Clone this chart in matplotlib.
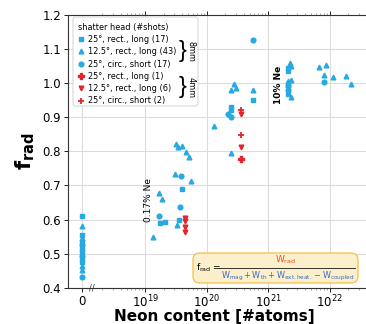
import matplotlib
matplotlib.use("Agg")
import matplotlib.pyplot as plt
import numpy as np
from matplotlib.patches import FancyBboxPatch
from matplotlib.lines import Line2D
from matplotlib.ticker import LogLocator, NullFormatter, FixedLocator

# neon content [#atoms] (0 = no neon) and f_rad, per shatter head
sq_n = [0, 0, 0, 0, 0, 0, 0, 1.78e19, 2.14e19, 4.0e19, 3.55e19,
        2.5e20, 2.5e20, 5.6e20, 2.15e21, 2.15e21, 2.15e21, 2.15e21]
sq_f = [0.611, 0.555, 0.535, 0.515, 0.505, 0.485, 0.475, 0.589, 0.594, 0.691, 0.599,
        0.928, 0.920, 0.951, 1.044, 1.034, 0.998, 0.968]

tri_n = [0, 0, 0, 0, 1.33e19, 1.7e19, 1.9e19, 3.1e19, 5.5e19, 3.3e19,
         3.16e19, 3.47e19, 4.0e19, 4.7e19, 5.2e19,
         2.5e20, 1.3e20, 2.75e20, 2.5e20, 3.0e20, 5.6e20,
         2.25e21, 2.35e21, 2.35e21, 2.15e21, 2.35e21,
         6.8e21, 8.9e21, 8.1e21, 1.12e22, 1.86e22, 2.2e22]
tri_f = [0.582, 0.545, 0.465, 0.453, 0.550, 0.678, 0.661, 0.733, 0.713, 0.584,
         0.820, 0.813, 0.815, 0.798, 0.782,
         0.796, 0.873, 0.998, 0.978, 0.986, 0.980,
         1.058, 1.049, 1.007, 1.005, 0.958,
         1.046, 1.051, 1.024, 1.017, 1.020, 0.998]

circ_n = [0, 0, 0, 1.7e19, 3.85e19, 3.7e19, 2.25e20, 2.5e20, 5.6e20,
          2.15e21, 2.15e21, 8.1e21]
circ_f = [0.525, 0.495, 0.431, 0.610, 0.727, 0.636, 0.910, 0.900, 1.126,
          0.991, 0.980, 1.002]

r_rect_n = [3.6e20]
r_rect_f = [0.776]
r_tri_n = [4.4e19, 4.4e19, 4.4e19, 4.4e19, 3.6e20, 3.6e20]
r_tri_f = [0.606, 0.597, 0.579, 0.564, 0.910, 0.813]
r_circ_n = [3.6e20, 3.6e20]
r_circ_f = [0.847, 0.920]

labels = ["25°, rect., long (17)", "12.5°, rect., long (43)", "25°, circ., short (17)",
          "25°, rect., long (1)", "12.5°, rect., long (6)", "25°, circ., short (2)"]

blue = "#27a9e1"
red = "#e3262b"

series = [
    (sq_n, sq_f, dict(marker="s", color=blue, ms=3.4)),
    (tri_n, tri_f, dict(marker="^", color=blue, ms=3.4)),
    (circ_n, circ_f, dict(marker="o", color=blue, ms=3.4)),
    (r_rect_n, r_rect_f, dict(marker="P", color=red, ms=5)),
    (r_tri_n, r_tri_f, dict(marker="v", color=red, ms=3.4)),
    (r_circ_n, r_circ_f, dict(marker="+", color=red, ms=4.5, mew=1.3)),
]

fig = plt.figure(figsize=(3.66, 3.24), dpi=100)
W, H = 366.0, 324.0
bot = 1 - 288 / H
hgt = (288 - 14.5) / H
ax0 = fig.add_axes([68 / W, bot, 24 / W, hgt])
ax1 = fig.add_axes([92 / W, bot, 274 / W, hgt], sharey=ax0)

for n, f, st in series:
    n = np.array(n)
    f = np.array(f)
    z = n == 0
    if z.any():
        ax0.plot(n[z], f[z], ls="none", **st)
    ax1.plot(n[~z], f[~z], ls="none", **st)

gridc = "#dcdcdc"
ax0.set_xlim(-1.4, 1.0)
ax0.xaxis.set_major_locator(FixedLocator([0]))
ax0.set_ylim(0.4, 1.2)
ax0.set_yticks([0.4, 0.5, 0.6, 0.7, 0.8, 0.9, 1.0, 1.1, 1.2])
ax0.spines["right"].set_visible(False)
ax0.grid(True, color=gridc, lw=0.8)
ax0.tick_params(labelsize=8.5, length=3, width=0.6, pad=2)
ax0.set_ylabel(r"$\mathbf{f_{rad}}$", fontsize=15, labelpad=4)

ax1.set_xscale("log")
ax1.set_xlim(10 ** 18.138, 10 ** 22.593)
ax1.xaxis.set_major_locator(LogLocator(base=10, numticks=10))
ax1.xaxis.set_minor_locator(LogLocator(base=10, subs=np.arange(2, 10), numticks=10))
ax1.xaxis.set_minor_formatter(NullFormatter())
ax1.spines["left"].set_visible(False)
ax1.spines["right"].set_visible(False)
ax1.grid(True, which="major", color=gridc, lw=0.8)
ax1.tick_params(axis="y", left=False, labelleft=False)
ax1.tick_params(axis="x", which="both", top=True, labelsize=8.5, width=0.6, pad=1)
ax1.tick_params(axis="x", which="major", length=3)
ax1.tick_params(axis="x", which="minor", length=1.5, color="#999999")
for a in (ax0, ax1):
    for s in a.spines.values():
        s.set_linewidth(0.8)
        s.set_color("#333333")
    a.set_axisbelow(True)

ax1.text(0.0, 0.0, "//", transform=ax1.transAxes, ha="center", va="center",
         fontsize=6, color="#333333")

fig.text(0.585, 0.0, "Neon content [#atoms]", ha="center", va="bottom",
         fontsize=11, fontweight="bold")

ax1.text(1.13e19, 0.657, "0.17% Ne", rotation=90, ha="center", va="center", fontsize=6.5)
ax1.text(1.5e21, 0.995, "10% Ne", rotation=90, ha="center", va="center",
         fontsize=6.5, fontweight="bold")

# legend: frame drawn separately so the braces sit inside it
lbox = FancyBboxPatch((73 / W, 1 - 106 / H), 125 / W, 89 / H,
                      boxstyle="round,pad=0,rounding_size=0.008", transform=fig.transFigure,
                      facecolor="white", edgecolor="#cccccc", lw=0.6, zorder=4)
fig.add_artist(lbox)
handles = [Line2D([], [], ls="none", **st) for _, _, st in series]
leg = fig.legend(handles, labels, title="shatter head (#shots)", loc="upper left",
                 bbox_to_anchor=(70 / W, 1 - 15 / H), frameon=False,
                 fontsize=5.9, title_fontsize=5.9, alignment="left",
                 handlelength=0.8, handletextpad=0.4, labelspacing=0.4,
                 borderpad=0.45)
leg.set_zorder(5)

for yc, txt in [(51, "8mm"), (87, "4mm")]:
    fig.text(183 / W, 1 - yc / H, "}", ha="center", va="center", fontsize=17,
             family="Liberation Sans", zorder=6)
    fig.text(191 / W, 1 - yc / H, txt, rotation=-90, ha="center", va="center",
             fontsize=5.9, zorder=6)

# formula box
box = FancyBboxPatch((193 / W, 1 - 283 / H), 165 / W, 30 / H,
                     boxstyle="round,pad=0,rounding_size=0.02", transform=fig.transFigure,
                     facecolor="#fcf0cc", edgecolor="#f5c04a", lw=0.9, zorder=5)
fig.add_artist(box)
yl = 1 - 268 / H
fig.text(196 / W, yl, r"$\mathrm{f_{rad}}$ =", ha="left", va="center", fontsize=6.5, zorder=6)
fig.add_artist(Line2D([219 / W, 355 / W], [yl, yl], transform=fig.transFigure,
                      color="#333333", lw=0.7, zorder=6))
fig.text(285 / W, yl + 2 / H, r"$\mathrm{W_{rad}}$", ha="center", va="bottom",
         fontsize=6.5, color="#ee4a2c", zorder=6)
fig.text(288 / W, yl - 1.5 / H,
         r"$\mathrm{W_{mag} + W_{th} + W_{ext.heat.} - W_{coupled}}$",
         ha="center", va="top", fontsize=5.9, color="#3a69c4", zorder=6)

fig.savefig("out.png", dpi=100)
